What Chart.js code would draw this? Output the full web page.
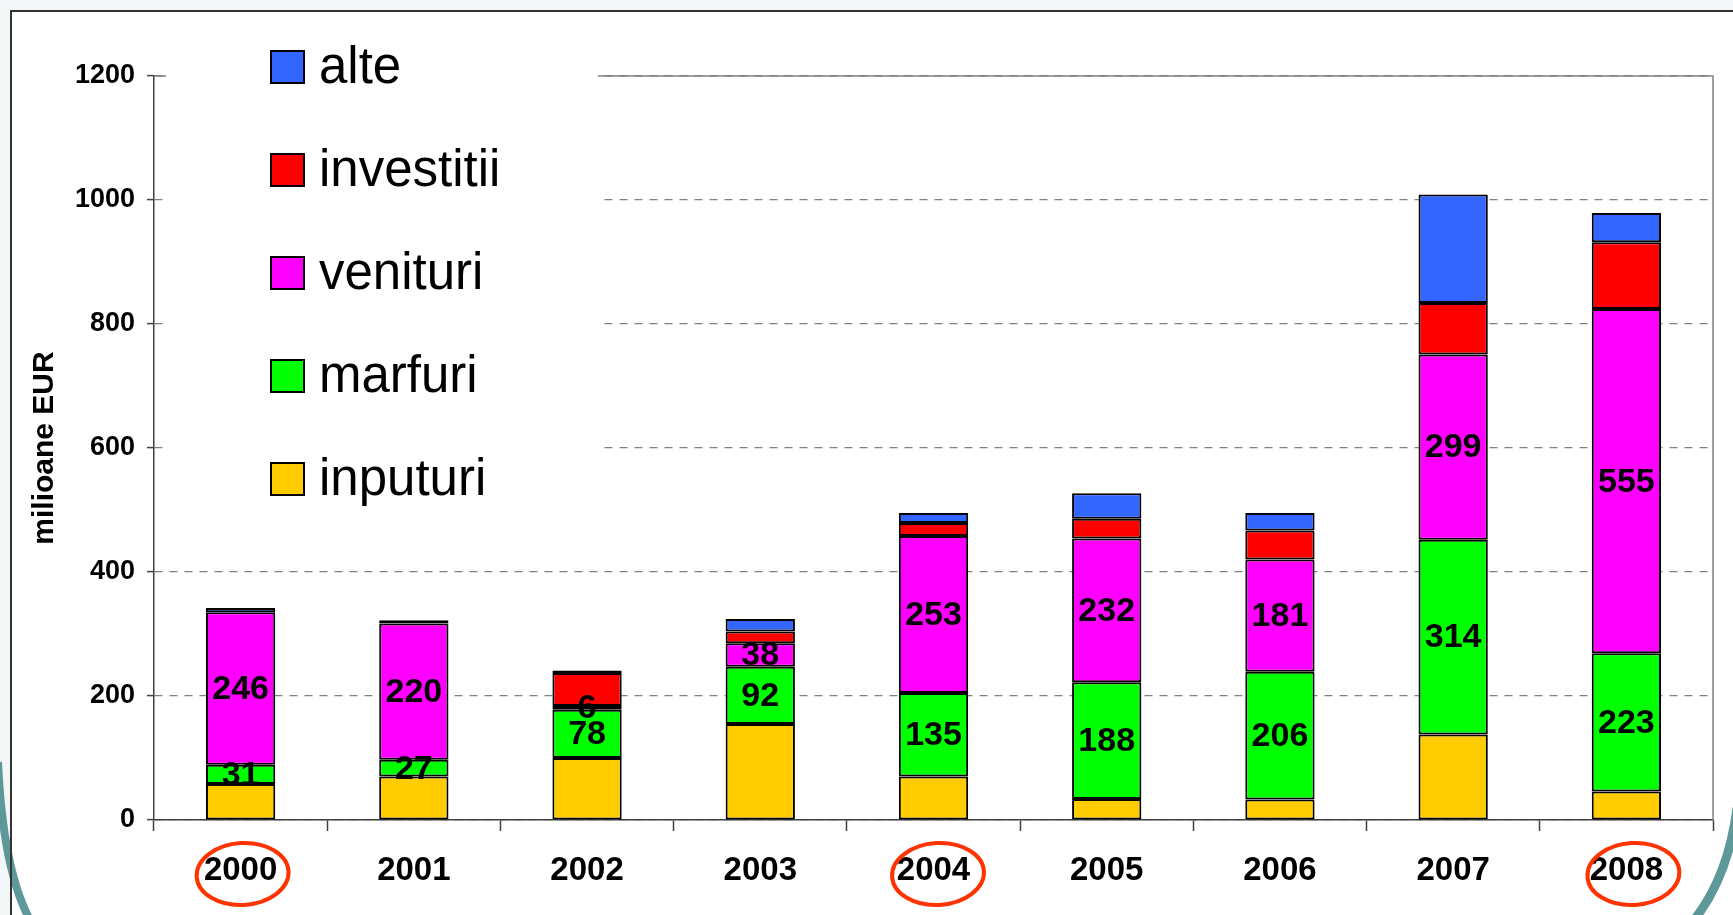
<!DOCTYPE html>
<html lang="ro">
<head>
<meta charset="utf-8">
<title>milioane EUR 2000-2008</title>
<script src="https://cdn.jsdelivr.net/npm/chart.js@4.4.1/dist/chart.umd.min.js"></script>
<style>
    html, body { margin: 0; padding: 0; background: #ffffff; }
    canvas { display: block; }
</style>
</head>
<body>
<canvas id="chart" width="1733" height="915"></canvas>
<script>
/* Structura pe ani — bare stivuite, milioane EUR */

const years = ['2000', '2001', '2002', '2003', '2004', '2005', '2006', '2007', '2008'];
const inputuri = [58, 70, 100, 155, 70, 34, 33, 138, 46];
const marfuri = [31, 27, 78, 92, 135, 188, 206, 314, 223];
const venituri = [246, 220, 6, 38, 253, 232, 181, 299, 555];
const investitii = [0, 0, 53, 19, 21, 32, 47, 83, 108];
const alte = [7, 5, 4, 20, 16, 41, 28, 175, 47];
const yTicks = [0, 200, 400, 600, 800, 1000, 1200];

const labeledSeries = ['venituri', 'marfuri'];
const circledYears = ['2000', '2004', '2008'];

const FONT = '"Liberation Sans", Arial, Helvetica, sans-serif';
const GRID_GRAY = '#808080';
const AXIS_DARK = '#404040';

function makeDataset(label, data, color) {
    return {
        label,
        data,
        backgroundColor: color,
        borderColor: '#000000',
        borderWidth: 2,
        borderSkipped: false,
        barPercentage: 0.4,
        categoryPercentage: 1
    };
}

const slideBackground = {
    id: 'slideBackground',
    beforeDraw(chart) {
        const { ctx, width, height } = chart;
        ctx.save();
        ctx.fillStyle = '#f4f7f7';
        ctx.fillRect(0, 0, width, height);
        ctx.fillStyle = '#ffffff';
        ctx.fillRect(11, 11, width - 11, height - 11);

        // arcuri decorative ale slide-ului
        ctx.strokeStyle = '#5f9898';
        ctx.lineCap = 'butt';
        ctx.lineWidth = 8;
        ctx.beginPath();
        ctx.moveTo(-2, 762);
        ctx.quadraticCurveTo(3, 870, 30, 920);
        ctx.stroke();
        ctx.lineWidth = 9;
        ctx.beginPath();
        ctx.moveTo(1737, 808);
        ctx.quadraticCurveTo(1728, 880, 1690, 925);
        ctx.stroke();

        ctx.strokeStyle = '#333333';
        ctx.lineWidth = 2;
        ctx.beginPath();
        ctx.moveTo(11, height);
        ctx.lineTo(11, 11);
        ctx.lineTo(width, 11);
        ctx.stroke();
        ctx.restore();
    }
};

const plotFrameAndLegend = {
    id: 'plotFrameAndLegend',
    beforeDatasetsDraw(chart) {
        const { ctx, chartArea } = chart;
        ctx.save();
        ctx.strokeStyle = GRID_GRAY;
        ctx.lineWidth = 1.5;
        ctx.beginPath();
        ctx.moveTo(chartArea.left, chartArea.top);
        ctx.lineTo(chartArea.right, chartArea.top);
        ctx.lineTo(chartArea.right, chartArea.bottom);
        ctx.stroke();

        // legenda acopera liniile de grila
        ctx.fillStyle = '#ffffff';
        ctx.fillRect(166, 20, 432, 520);

        const rows = chart.data.datasets.slice().reverse();
        ctx.font = `51px ${FONT}`;
        ctx.textAlign = 'left';
        ctx.textBaseline = 'alphabetic';
        rows.forEach((ds, i) => {
            const cy = 67 + i * 103;
            ctx.fillStyle = ds.backgroundColor;
            ctx.fillRect(271, cy - 16, 33, 32);
            ctx.strokeStyle = '#000000';
            ctx.lineWidth = 2;
            ctx.strokeRect(271, cy - 16, 33, 32);
            ctx.fillStyle = '#000000';
            ctx.fillText(ds.label, 319, cy + 16);
        });
        ctx.restore();
    }
};

const barValues = {
    id: 'barValues',
    afterDatasetsDraw(chart) {
        const { ctx } = chart;
        ctx.save();
        ctx.font = `bold 34px ${FONT}`;
        ctx.fillStyle = '#000000';
        ctx.textAlign = 'center';
        ctx.textBaseline = 'middle';
        chart.data.datasets.forEach((ds, di) => {
            if (!labeledSeries.includes(ds.label)) return;
            chart.getDatasetMeta(di).data.forEach((bar, i) => {
                const { x, y, base } = bar.getProps(['x', 'y', 'base'], true);
                ctx.fillText(String(ds.data[i]), x, (y + base) / 2 + 1);
            });
        });
        ctx.restore();
    }
};

const circledLabels = {
    id: 'circledLabels',
    afterDraw(chart) {
        const { ctx } = chart;
        const xScale = chart.scales.x;
        ctx.save();
        ctx.strokeStyle = '#ff3300';
        ctx.lineWidth = 4;
        circledYears.forEach((year, i) => {
            const cx = xScale.getPixelForValue(years.indexOf(year)) + 2 + i * 2.5;
            ctx.beginPath();
            ctx.ellipse(cx, 874, 46, 31, -0.06, 0, Math.PI * 2);
            ctx.stroke();
        });
        ctx.restore();
    }
};

new Chart(document.getElementById('chart'), {
    type: 'bar',
    data: {
        labels: years,
        datasets: [
            makeDataset('inputuri', inputuri, '#ffcc00'),
            makeDataset('marfuri', marfuri, '#00ff00'),
            makeDataset('venituri', venituri, '#ff00ff'),
            makeDataset('investitii', investitii, '#ff0000'),
            makeDataset('alte', alte, '#3366ff')
        ]
    },
    options: {
        responsive: false,
        animation: false,
        layout: { padding: { top: 76, right: 20, left: 0, bottom: 0 } },
        plugins: {
            legend: { display: false },
            tooltip: { enabled: false }
        },
        scales: {
            x: {
                stacked: true,
                grid: {
                    offset: true,
                    drawOnChartArea: false,
                    tickLength: 11,
                    tickColor: AXIS_DARK,
                    tickWidth: 1.5
                },
                border: { color: AXIS_DARK, width: 1.5 },
                ticks: {
                    color: '#000000',
                    padding: 20,
                    font: { family: FONT, size: 33, weight: 'bold' }
                },
                afterFit(scale) { scale.height = 95; }
            },
            y: {
                stacked: true,
                min: 0,
                max: 1200,
                afterBuildTicks(scale) {
                    scale.ticks = yTicks.map((value) => ({ value }));
                },
                grid: {
                    color: GRID_GRAY,
                    lineWidth: 1.2,
                    tickLength: 7,
                    tickColor: AXIS_DARK,
                    tickWidth: 1.5,
                    tickBorderDash: []
                },
                border: { color: AXIS_DARK, width: 1.5, dash: [8, 7] },
                ticks: {
                    color: '#000000',
                    padding: 12,
                    font: { family: FONT, size: 27, weight: 'bold' },
                    callback: (value) => String(value)
                },
                title: {
                    display: true,
                    text: 'milioane EUR',
                    color: '#000000',
                    padding: { top: 27, bottom: 0 },
                    font: { family: FONT, size: 30, weight: 'bold' }
                },
                afterFit(scale) { scale.width = 154; }
            }
        }
    },
    plugins: [slideBackground, plotFrameAndLegend, barValues, circledLabels]
});
</script>
</body>
</html>
